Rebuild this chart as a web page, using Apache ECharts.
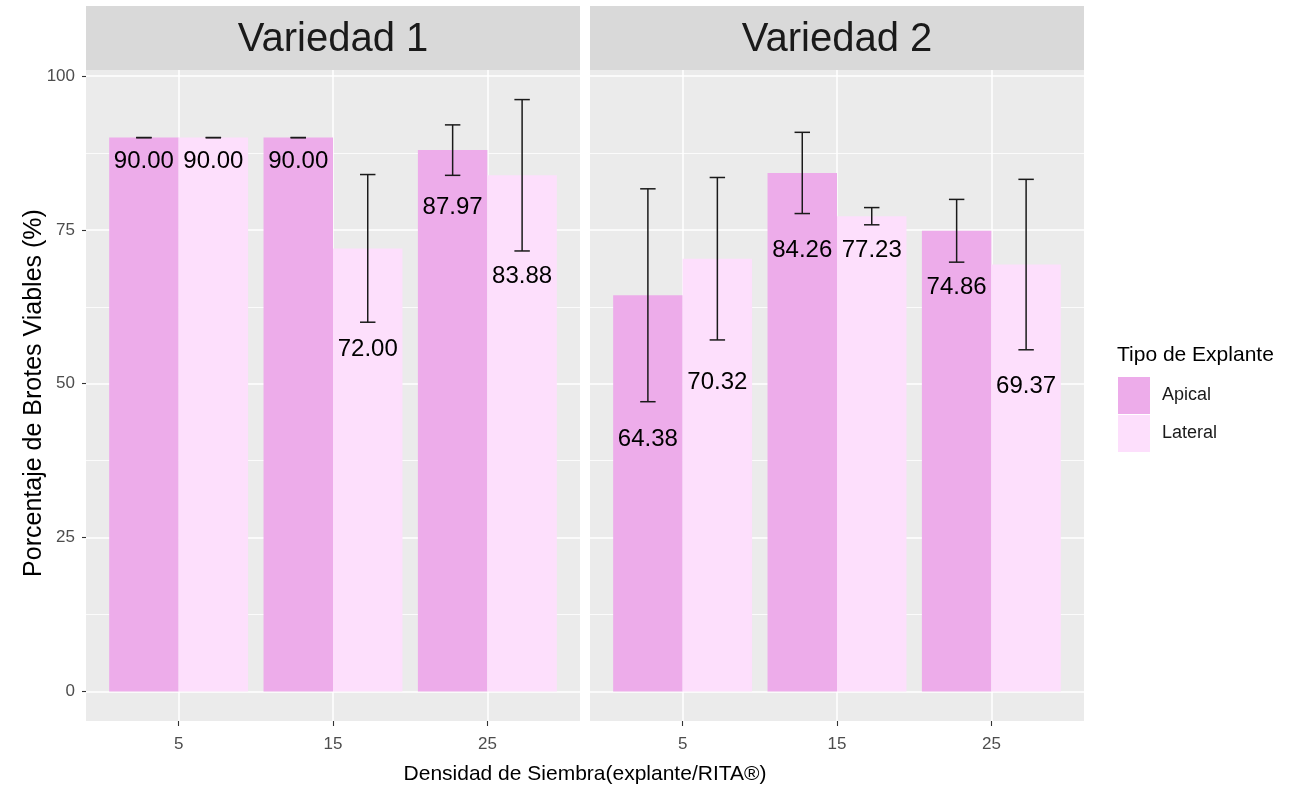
<!DOCTYPE html>
<html>
<head>
<meta charset="utf-8">
<script src="https://cdn.jsdelivr.net/npm/echarts@6/dist/echarts.min.js"></script>
<style>
  html, body { margin: 0; padding: 0; background: #ffffff; }
  #chart { width: 1294px; height: 790px; }
</style>
</head>
<body>
<div id="chart"></div>
<script>
// Sowing density categories (explants per RITA vessel)
const densidades = [5, 15, 25];
const densidadLabels = ['5', '15', '25'];
const variedades = ['Variedad 1', 'Variedad 2'];
const tipos = ['Apical', 'Lateral'];

// Mean percentage of viable shoots
const v1Apical = [90.00, 90.00, 87.97];
const v1Lateral = [90.00, 72.00, 83.88];
const v2Apical = [64.38, 84.26, 74.86];
const v2Lateral = [70.32, 77.23, 69.37];

// Standard deviations (error bars)
const v1ApicalSd = [0, 0, 4.1];
const v1LateralSd = [0, 12.0, 12.3];
const v2ApicalSd = [17.3, 6.6, 5.1];
const v2LateralSd = [13.2, 1.4, 13.85];

// Heights (in %) where the value labels are written
const v1ApicalLabelY = [86.1, 86.1, 78.7];
const v1LateralLabelY = [86.1, 55.6, 67.5];
const v2ApicalLabelY = [40.9, 71.6, 65.6];
const v2LateralLabelY = [50.2, 71.6, 49.6];

// Y axis ticks
const yTicks = [0, 25, 50, 75, 100];
const yMinorTicks = [12.5, 37.5, 62.5, 87.5];

const FONT = '"Liberation Sans", Arial, sans-serif';
const APICAL_COLOR = '#EDACEA';
const LATERAL_COLOR = '#FDDFFC';

const panels = [
  { mean: [v1Apical, v1Lateral], sd: [v1ApicalSd, v1LateralSd], labelY: [v1ApicalLabelY, v1LateralLabelY] },
  { mean: [v2Apical, v2Lateral], sd: [v2ApicalSd, v2LateralSd], labelY: [v2ApicalLabelY, v2LateralLabelY] }
];

// Axis ranges: discrete-like x with 0.6 spacing padding, y expanded 5% of data span
const step = densidades[1] - densidades[0];
const xMin = densidades[0] - 0.6 * step;
const xMax = densidades[densidades.length - 1] + 0.6 * step;
let dataTop = 0;
panels.forEach(p => p.mean.forEach((m, s) => m.forEach((v, i) => {
  dataTop = Math.max(dataTop, v + p.sd[s][i]);
})));
const yMin = -0.05 * dataTop;
const yMax = dataTop * 1.05;

const panelBoxes = [
  { left: 86, width: 494 },
  { left: 590, width: 494 }
];
const panelTop = 70, panelHeight = 651;

const grids = panelBoxes.map(b => ({
  left: b.left, top: panelTop, width: b.width, height: panelHeight,
  show: true, backgroundColor: '#EBEBEB', borderWidth: 0, borderColor: 'transparent',
  containLabel: false, outerBoundsMode: 'none'
}));

const xAxes = panelBoxes.map((b, i) => ({
  gridIndex: i, type: 'value', min: xMin, max: xMax,
  axisLine: { show: false, onZero: false },
  axisTick: { show: true, length: 5, customValues: densidades, lineStyle: { color: '#333333', width: 1.1 } },
  axisLabel: {
    customValues: densidades, margin: 15, fontSize: 17, color: '#4D4D4D', fontFamily: FONT,
    formatter: v => densidadLabels[densidades.indexOf(v)]
  },
  splitLine: { show: true, lineStyle: { color: '#FFFFFF', width: 1.5 } }
}));

const yMajor = panelBoxes.map((b, i) => ({
  gridIndex: i, type: 'value', min: yMin, max: yMax, position: 'left',
  axisLine: { show: false, onZero: false },
  axisTick: { show: i === 0, length: 4, customValues: yTicks, lineStyle: { color: '#333333', width: 1.1 } },
  axisLabel: { show: i === 0, customValues: yTicks, margin: 11, fontSize: 17, color: '#4D4D4D', fontFamily: FONT },
  splitLine: { show: true, lineStyle: { color: '#FFFFFF', width: 1.5 } }
}));
const yMinor = panelBoxes.map((b, i) => ({
  gridIndex: i, type: 'value', min: yMin, max: yMax, position: 'left',
  axisLine: { show: false, onZero: false },
  axisTick: { show: false, customValues: yMinorTicks },
  axisLabel: { show: false, customValues: yMinorTicks },
  splitLine: { show: true, lineStyle: { color: '#FFFFFF', width: 0.8 } }
}));

const colors = [APICAL_COLOR, LATERAL_COLOR];
const sides = [-1, 1];
const series = [];

panels.forEach((p, gi) => {
  tipos.forEach((t, s) => {
    series.push({
      name: t, type: 'bar', xAxisIndex: gi, yAxisIndex: gi,
      barWidth: '45%', barGap: '0%',
      itemStyle: { color: colors[s] },
      data: densidades.map((d, i) => [d, p.mean[s][i]]),
      z: 2
    });
  });
});

function dodgeX(api, x, side) {
  const band = api.size([step, 0])[0];
  return { cx: api.coord([x, 0])[0] + side * 0.225 * band, band: band };
}

panels.forEach((p, gi) => {
  const ebData = [];
  const lblData = [];
  tipos.forEach((t, s) => {
    densidades.forEach((d, i) => {
      const m = p.mean[s][i], sd = p.sd[s][i];
      ebData.push([d, m - sd, m + sd, sides[s]]);
      lblData.push([d, p.labelY[s][i], m, sides[s]]);
    });
  });
  // error bars (mean ± sd)
  series.push({
    type: 'custom', xAxisIndex: gi, yAxisIndex: gi, z: 3,
    data: ebData,
    renderItem: (params, api) => {
      const pos = dodgeX(api, api.value(0), api.value(3));
      const yLo = api.coord([api.value(0), api.value(1)])[1];
      const yHi = api.coord([api.value(0), api.value(2)])[1];
      const half = 0.05 * pos.band;
      const style = { stroke: '#1A1A1A', lineWidth: 1.5 };
      return {
        type: 'group',
        children: [
          { type: 'line', shape: { x1: pos.cx, y1: yLo, x2: pos.cx, y2: yHi }, style },
          { type: 'line', shape: { x1: pos.cx - half, y1: yHi, x2: pos.cx + half, y2: yHi }, style },
          { type: 'line', shape: { x1: pos.cx - half, y1: yLo, x2: pos.cx + half, y2: yLo }, style }
        ]
      };
    }
  });
  // value labels
  series.push({
    type: 'custom', xAxisIndex: gi, yAxisIndex: gi, z: 4,
    data: lblData,
    renderItem: (params, api) => {
      const pos = dodgeX(api, api.value(0), api.value(3));
      const y = api.coord([api.value(0), api.value(1)])[1];
      return {
        type: 'text', x: pos.cx, y: y,
        style: {
          text: api.value(2).toFixed(2), align: 'center', verticalAlign: 'middle',
          fontSize: 24, fontFamily: FONT, fill: '#000000'
        }
      };
    }
  });
});

// facet strips and titles
const graphics = [];
panelBoxes.forEach((b, i) => {
  graphics.push({
    type: 'rect', shape: { x: b.left, y: 6, width: b.width, height: 64 },
    style: { fill: '#D9D9D9' }, silent: true
  });
  graphics.push({
    type: 'text', x: b.left + b.width / 2, y: 40,
    style: { text: variedades[i], align: 'center', verticalAlign: 'middle', fontSize: 40, fontFamily: FONT, fill: '#1A1A1A' },
    silent: true
  });
});
graphics.push({
  type: 'text', x: 34, y: 393, rotation: Math.PI / 2,
  style: { text: 'Porcentaje de Brotes Viables (%)', align: 'center', verticalAlign: 'middle', fontSize: 25, fontFamily: FONT, fill: '#000000' },
  silent: true
});
graphics.push({
  type: 'text', x: 585, y: 774,
  style: { text: 'Densidad de Siembra(explante/RITA®)', align: 'center', verticalAlign: 'middle', fontSize: 21, fontFamily: FONT, fill: '#000000' },
  silent: true
});
graphics.push({
  type: 'text', x: 1117, y: 355,
  style: { text: 'Tipo de Explante', align: 'left', verticalAlign: 'middle', fontSize: 21, fontFamily: FONT, fill: '#000000' },
  silent: true
});

const chart = echarts.init(document.getElementById('chart'), null, { renderer: 'canvas' });
chart.setOption({
  animation: false,
  backgroundColor: '#FFFFFF',
  grid: grids,
  xAxis: xAxes,
  yAxis: yMajor.concat(yMinor),
  legend: {
    data: tipos, orient: 'vertical', left: 1118, top: 377, padding: 0,
    icon: 'rect', itemWidth: 32, itemHeight: 37, itemGap: 1,
    selectedMode: false,
    textStyle: { fontSize: 18, fontFamily: FONT, color: '#1A1A1A', padding: [7, 0, 0, 7] }
  },
  tooltip: { show: false },
  graphic: graphics,
  series: series
});
</script>
</body>
</html>
